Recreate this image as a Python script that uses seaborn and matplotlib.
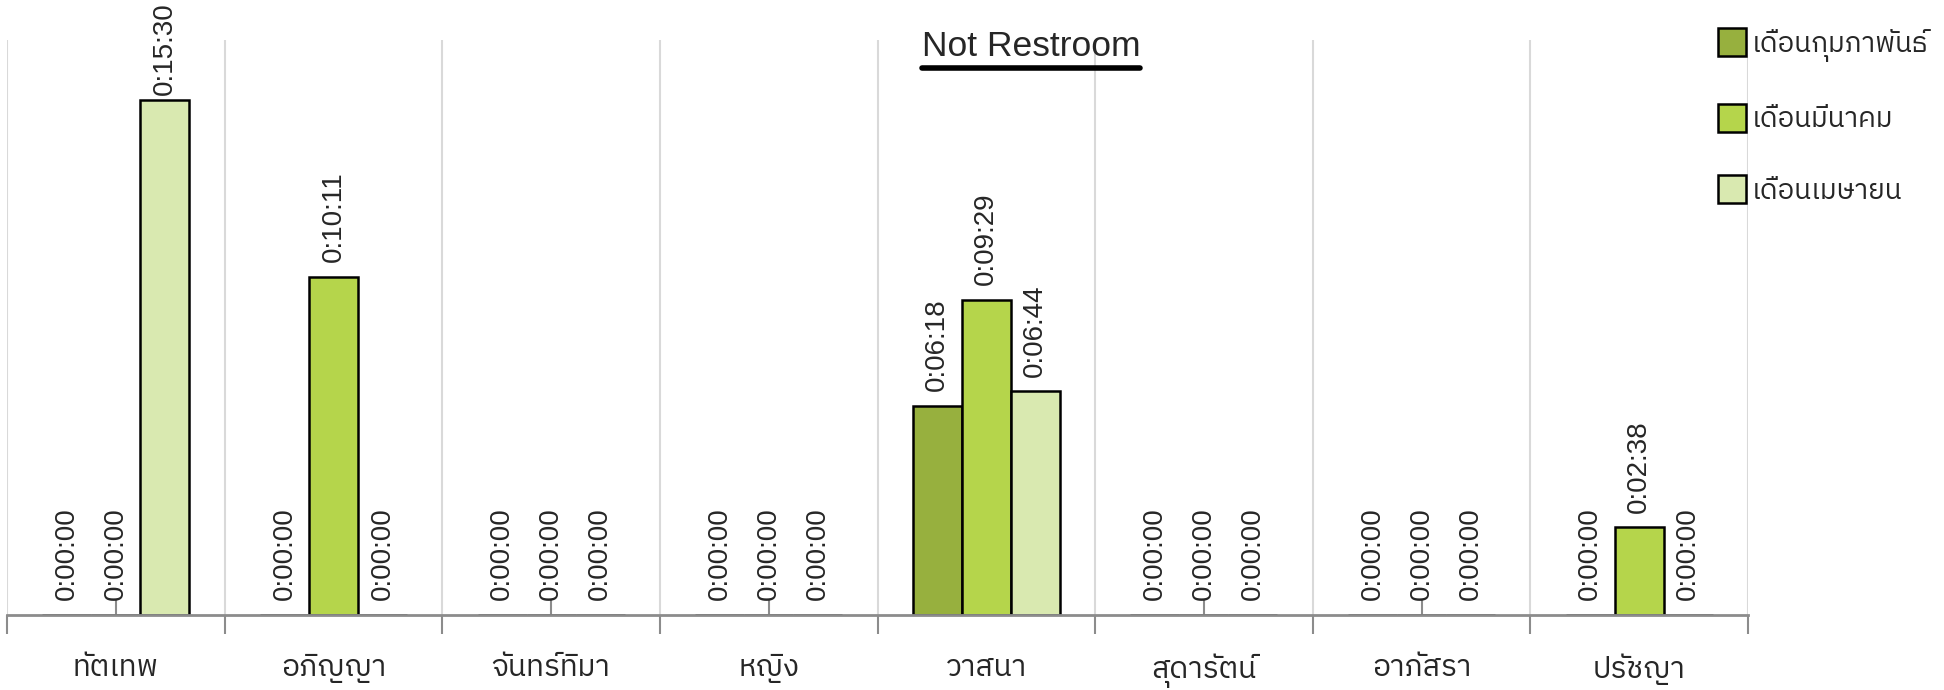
import matplotlib
matplotlib.use('Agg')
import matplotlib.pyplot as plt
from matplotlib import font_manager
from matplotlib.ft2font import FT2Font
from matplotlib.lines import Line2D
import numpy as np
import pandas as pd
import seaborn as sns

# data (seconds)
people = ['ทัตเทพ', 'อภิญญา', 'จันทร์ทิมา', 'หญิง', 'วาสนา', 'สุดารัตน์', 'อาภัสรา', 'ปรัชญา']
months = ['เดือนกุมภาพันธ์', 'เดือนมีนาคม', 'เดือนเมษายน']
feb = [0, 0, 0, 0, 378, 0, 0, 0]
mar = [0, 611, 0, 0, 569, 0, 0, 158]
apr = [930, 0, 0, 0, 404, 0, 0, 0]
colors = ['#97b03e', '#b5d54b', '#d9e9b0']


def find_thai_font():
    preferred = ['Thai', 'Loma', 'Garuda', 'Norasi', 'Kinnari', 'Sawasdee', 'Tlwg', 'Waree', 'Umpush', 'Laksaman', 'Purisa']
    found = []
    for f in font_manager.fontManager.ttflist:
        try:
            cmap = FT2Font(f.fname).get_charmap()
        except Exception:
            continue
        if 0x0E01 in cmap and 0x0E34 in cmap:
            found.append(f.name)
    for p in preferred:
        for n in found:
            if p in n:
                return n
    return found[0] if found else 'DejaVu Sans'


thai = find_thai_font()

df = pd.DataFrame({
    'person': np.repeat(people, 3),
    'month': months * len(people),
    'sec': [v for trio in zip(feb, mar, apr) for v in trio],
})

sns.set_style('white')
plt.rcParams['font.family'] = ['Liberation Sans', 'DejaVu Sans']

fig = plt.figure(figsize=(19.44, 6.9), dpi=100)
ax = fig.add_axes([7 / 1944, 1 - 615 / 690, (1748 - 7) / 1944, (615 - 40) / 690])

sns.barplot(data=df, x='person', y='sec', hue='month', order=people, hue_order=months,
            palette=colors, saturation=1, width=0.675, edgecolor='black', linewidth=1.8, ax=ax,
            legend=False, zorder=3)

ax.set_ylim(0, 1038)
ax.set_xlim(-0.5, len(people) - 0.5)
ax.set_yticks([])
ax.set_xlabel('')
ax.set_ylabel('')
for s in ['top', 'right', 'left']:
    ax.spines[s].set_visible(False)
ax.spines['bottom'].set_color('#8c8c8c')
ax.spines['bottom'].set_linewidth(2)
ax.spines['bottom'].set_zorder(4)

# gridlines at category boundaries
bounds = np.arange(len(people) + 1) - 0.5
for b in bounds:
    ax.axvline(b, color='#d9d9d9', lw=1.5, zorder=0)

ax.set_xticks(bounds)
ax.set_xticklabels([])
ax.tick_params(axis='x', which='major', bottom=True, direction='out', length=14, width=1.5, color='#8c8c8c')
ax.set_xticks(np.arange(len(people)), minor=True)
ax.set_xticklabels(people, minor=True, fontsize=21.5, family=[thai, 'DejaVu Sans'])
ax.tick_params(axis='x', which='minor', bottom=True, direction='in', length=11, width=1.5,
               color='#8c8c8c', pad=28)

# value labels
labels = []
for bar_cont in ax.containers:
    for rect in bar_cont:
        h = rect.get_height()
        s = int(round(h))
        txt = f'{s // 3600}:{(s % 3600) // 60:02d}:{s % 60:02d}'
        t = ax.annotate(txt, (rect.get_x() + rect.get_width() / 2, h), xytext=(0, 10.5),
                        textcoords='offset points', rotation=90, ha='center', va='bottom',
                        fontsize=20, clip_on=False, zorder=5)
        labels.append(t)

# legend
handles = [Line2D([], [], marker='s', linestyle='none', markersize=20, markerfacecolor=c,
                  markeredgecolor='black', markeredgewidth=1.8) for c in colors]
leg = fig.legend(handles, months, loc='upper left', bbox_to_anchor=(1693 / 1944, 1 - 4 / 690),
                 frameon=False, labelspacing=1.6, handletextpad=0.2, handlelength=1.0,
                 prop={'family': [thai, 'DejaVu Sans'], 'size': 20})

# title with underline
title = fig.text(1031 / 1944, 1 - 47 / 690, 'Not Restroom', ha='center', va='center', fontsize=25.5)
fig.canvas.draw()

# keep labels inside the figure (tall bar label gets pushed down, as in Excel)
for t in labels:
    bb = t.get_window_extent()
    over = bb.y1 - (fig.bbox.height - 2)
    if over > 0:
        x0, y0 = t.xyann
        t.xyann = (x0, y0 - over * 72 / fig.dpi)

bb = title.get_window_extent()
y_line = (bb.y0 - 4) / fig.bbox.height
fig.add_artist(Line2D([bb.x0 / fig.bbox.width, bb.x1 / fig.bbox.width], [y_line, y_line],
                      transform=fig.transFigure, color='black', lw=4))

fig.savefig('out.png', dpi=100)
